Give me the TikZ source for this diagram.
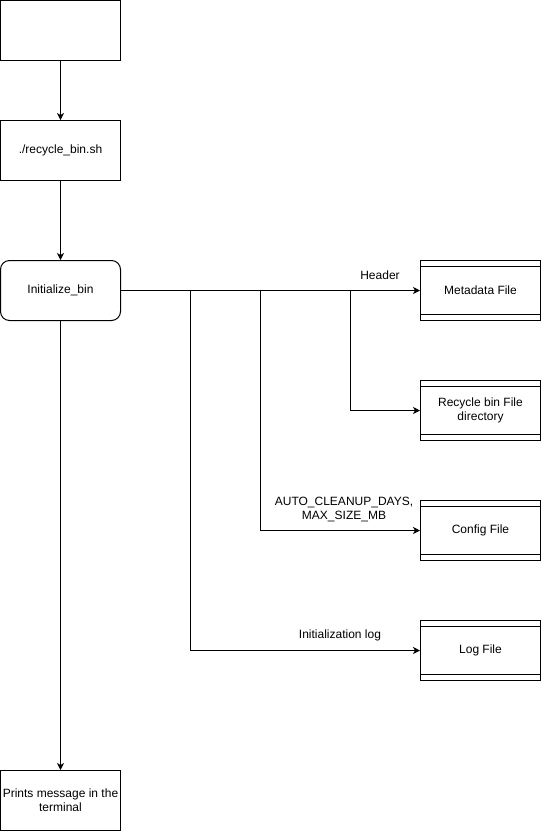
\documentclass[tikz,border=0pt]{standalone}
\usepackage{fontspec}
\setmainfont{Liberation Sans}
\usetikzlibrary{arrows.meta}
\begin{document}
\begin{tikzpicture}[x=1pt,y=-1pt,
  every node/.style={font=\fontsize{12}{14}\selectfont},
  base/.style={draw=black, line width=1pt, minimum width=120pt, minimum height=60pt, inner sep=1pt, align=center, anchor=center},
  procbox/.style={base},
  roundbox/.style={base, rounded corners=9pt},
  filebox/.style={base, path picture={
     \draw[line width=1pt] ([yshift=-6pt]path picture bounding box.north west) -- ([yshift=-6pt]path picture bounding box.north east);
     \draw[line width=1pt] ([yshift=6pt]path picture bounding box.south west) -- ([yshift=6pt]path picture bounding box.south east);}},
  conn/.style={draw=black, line width=1pt, -{Stealth[length=7pt,width=7pt,inset=2pt]}},
  plain/.style={draw=black, line width=1pt},
  lbl/.style={align=center, inner sep=0pt}
]
\useasboundingbox (0,0) rectangle (541,831);
\node[procbox] (start) at (60.5,30.5) {};
\node[procbox] (script) at (60.5,150.5) {./recycle\_bin.sh};
\node[roundbox] (init) at (60.5,290.5) {Initialize\_bin};
\node[procbox] (prints) at (60.5,800.5) {Prints message in the\\terminal};
\node[filebox] (meta) at (480.5,290.5) {Metadata File};
\node[filebox] (rdir) at (480.5,410.5) {Recycle bin File\\directory};
\node[filebox] (conf) at (480.5,530.5) {Config File};
\node[filebox] (logf) at (480.5,650.5) {Log File};

\coordinate (b1) at (190.5,290.5);
\coordinate (b2) at (260.5,290.5);
\coordinate (b3) at (350.5,290.5);

\draw[conn] (start) -- (script);
\draw[conn] (script) -- (init);
\draw[conn] (init) -- (prints);
\draw[conn] (init) -- (meta);
\draw[conn] (b3) |- (rdir.west);
\draw[conn] (b2) |- (conf.west);
\draw[conn] (b1) |- (logf.west);

\node[lbl] (lh) at (380,275.5) {Header};
\node[lbl] (lc) at (344,509.5) {AUTO\_CLEANUP\_DAYS,\\MAX\_SIZE\_MB};
\node[lbl] (ll) at (340,635.5) {Initialization log};
\end{tikzpicture}
\end{document}
